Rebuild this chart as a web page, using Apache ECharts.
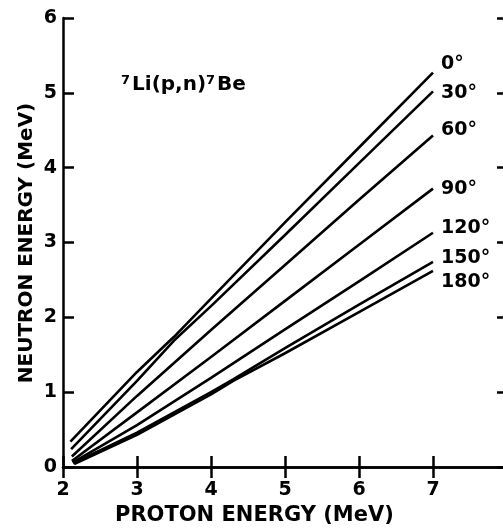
<!DOCTYPE html>
<html>
<head>
<meta charset="utf-8">
<script src="https://cdn.jsdelivr.net/npm/echarts@6/dist/echarts.min.js"></script>
<style>html,body{margin:0;padding:0;background:#fff}#c{width:503px;height:529px}</style>
</head>
<body>
<div id="c"></div>
<script>
// ---- data ----
const angleNames = ['0°', '30°', '60°', '90°', '120°', '150°', '180°'];
const protonE_0   = [2.10, 3, 3.5, 4, 5, 6, 7];
const neutronE_0  = [0.34, 1.27, 1.74, 2.25, 3.27, 4.27, 5.27];
const protonE_30  = [2.11, 3, 3.5, 4, 5, 6, 7];
const neutronE_30 = [0.24, 1.15, 1.69, 2.15, 3.10, 4.06, 5.02];
const protonE_60  = [2.12, 3, 4, 5, 6, 7];
const neutronE_60 = [0.14, 0.95, 1.83, 2.70, 3.57, 4.43];
const protonE_90  = [2.12, 3, 4, 5, 6, 7];
const neutronE_90 = [0.08, 0.73, 1.47, 2.22, 2.97, 3.72];
const protonE_120  = [2.13, 3, 4, 5, 6, 7];
const neutronE_120 = [0.06, 0.56, 1.19, 1.84, 2.48, 3.13];
const protonE_150  = [2.14, 3, 4, 4.3, 5, 6, 7];
const neutronE_150 = [0.05, 0.46, 1.00, 1.17, 1.59, 2.17, 2.74];
const protonE_180  = [2.15, 3, 4, 4.3, 5, 6, 7];
const neutronE_180 = [0.04, 0.43, 0.97, 1.15, 1.52, 2.07, 2.62];
const xTickLabels = ['2', '3', '4', '5', '6', '7'];
const yTickLabels = ['0', '1', '2', '3', '4', '5', '6'];
const xAxisTitle = 'PROTON ENERGY (MeV)';
const yAxisTitle = 'NEUTRON ENERGY (MeV)';

const xs = [protonE_0, protonE_30, protonE_60, protonE_90, protonE_120, protonE_150, protonE_180];
const ys = [neutronE_0, neutronE_30, neutronE_60, neutronE_90, neutronE_120, neutronE_150, neutronE_180];
const labelOffsets = [[3, -9], [3, 2], [3, -5], [3, 0], [3, -5], [3, -4], [3, 11]];

const FONT = 'DejaVu Sans';
const axisLine = { show: true, lineStyle: { color: '#000', width: 2.5 } };
const axisTick = { show: true, inside: true, length: 11, lineStyle: { color: '#000', width: 2.5 } };

const series = angleNames.map((name, i) => ({
  name: name,
  type: 'line',
  showSymbol: false,
  smooth: false,
  data: xs[i].map((x, j) => [x, ys[i][j]]),
  lineStyle: { color: '#000', width: 2.6, join: 'round' },
  itemStyle: { color: '#000' },
  endLabel: {
    show: true,
    formatter: '{a}',
    color: '#000',
    fontFamily: FONT,
    fontSize: 19,
    fontWeight: 'bold',
    distance: 5,
    offset: labelOffsets[i]
  },
  emphasis: { disabled: true },
  animation: false
}));

const chart = echarts.init(document.getElementById('c'), null, { renderer: 'canvas' });
chart.setOption({
  animation: false,
  backgroundColor: '#fff',
  grid: { left: 63, right: -4, top: 18, bottom: 62, containLabel: false, outerBoundsMode: 'none' },
  xAxis: [{
    type: 'value', position: 'bottom', min: 2, max: 8, interval: 1,
    axisLine: axisLine, axisTick: axisTick, splitLine: { show: false },
    axisLabel: {
      color: '#000', fontFamily: FONT, fontSize: 19, fontWeight: 'bold', margin: 14,
      formatter: v => { const s = String(v); return xTickLabels.indexOf(s) >= 0 ? s : ''; }
    }
  }, {
    type: 'value', position: 'top', min: 2, max: 8, interval: 1,
    axisLine: axisLine, axisTick: axisTick, splitLine: { show: false },
    axisLabel: { show: false }
  }],
  yAxis: [{
    type: 'value', position: 'left', min: 0, max: 6, interval: 1,
    axisLine: axisLine, axisTick: axisTick, splitLine: { show: false },
    axisLabel: {
      color: '#000', fontFamily: FONT, fontSize: 19, fontWeight: 'bold', margin: 6,
      formatter: v => { const s = String(v); return yTickLabels.indexOf(s) >= 0 ? s : ''; }
    }
  }, {
    type: 'value', position: 'right', min: 0, max: 6, interval: 1,
    axisLine: axisLine,
    axisTick: { show: true, inside: true, length: 10, lineStyle: { color: '#000', width: 2.5 } },
    splitLine: { show: false },
    axisLabel: { show: false }
  }],
  series: series,
  graphic: [{
    type: 'text', left: 115, top: 505,
    style: { text: xAxisTitle, fill: '#000', font: 'bold 21px "DejaVu Sans"' }
  }, {
    type: 'text', x: 27, y: 243, rotation: Math.PI / 2,
    style: { text: yAxisTitle, fill: '#000', font: 'bold 20px "DejaVu Sans"', align: 'center', verticalAlign: 'middle' }
  }, {
    type: 'text', left: 121, top: 74,
    style: {
      text: '{s|7}{m|Li(p,n)}{s|7}{m|Be}',
      rich: {
        s: { fontFamily: FONT, fontSize: 13, fontWeight: 'bold', fill: '#000', verticalAlign: 'top', padding: [0, 2, 9, 0] },
        m: { fontFamily: FONT, fontSize: 20, fontWeight: 'bold', fill: '#000' }
      }
    }
  }]
});
</script>
</body>
</html>
